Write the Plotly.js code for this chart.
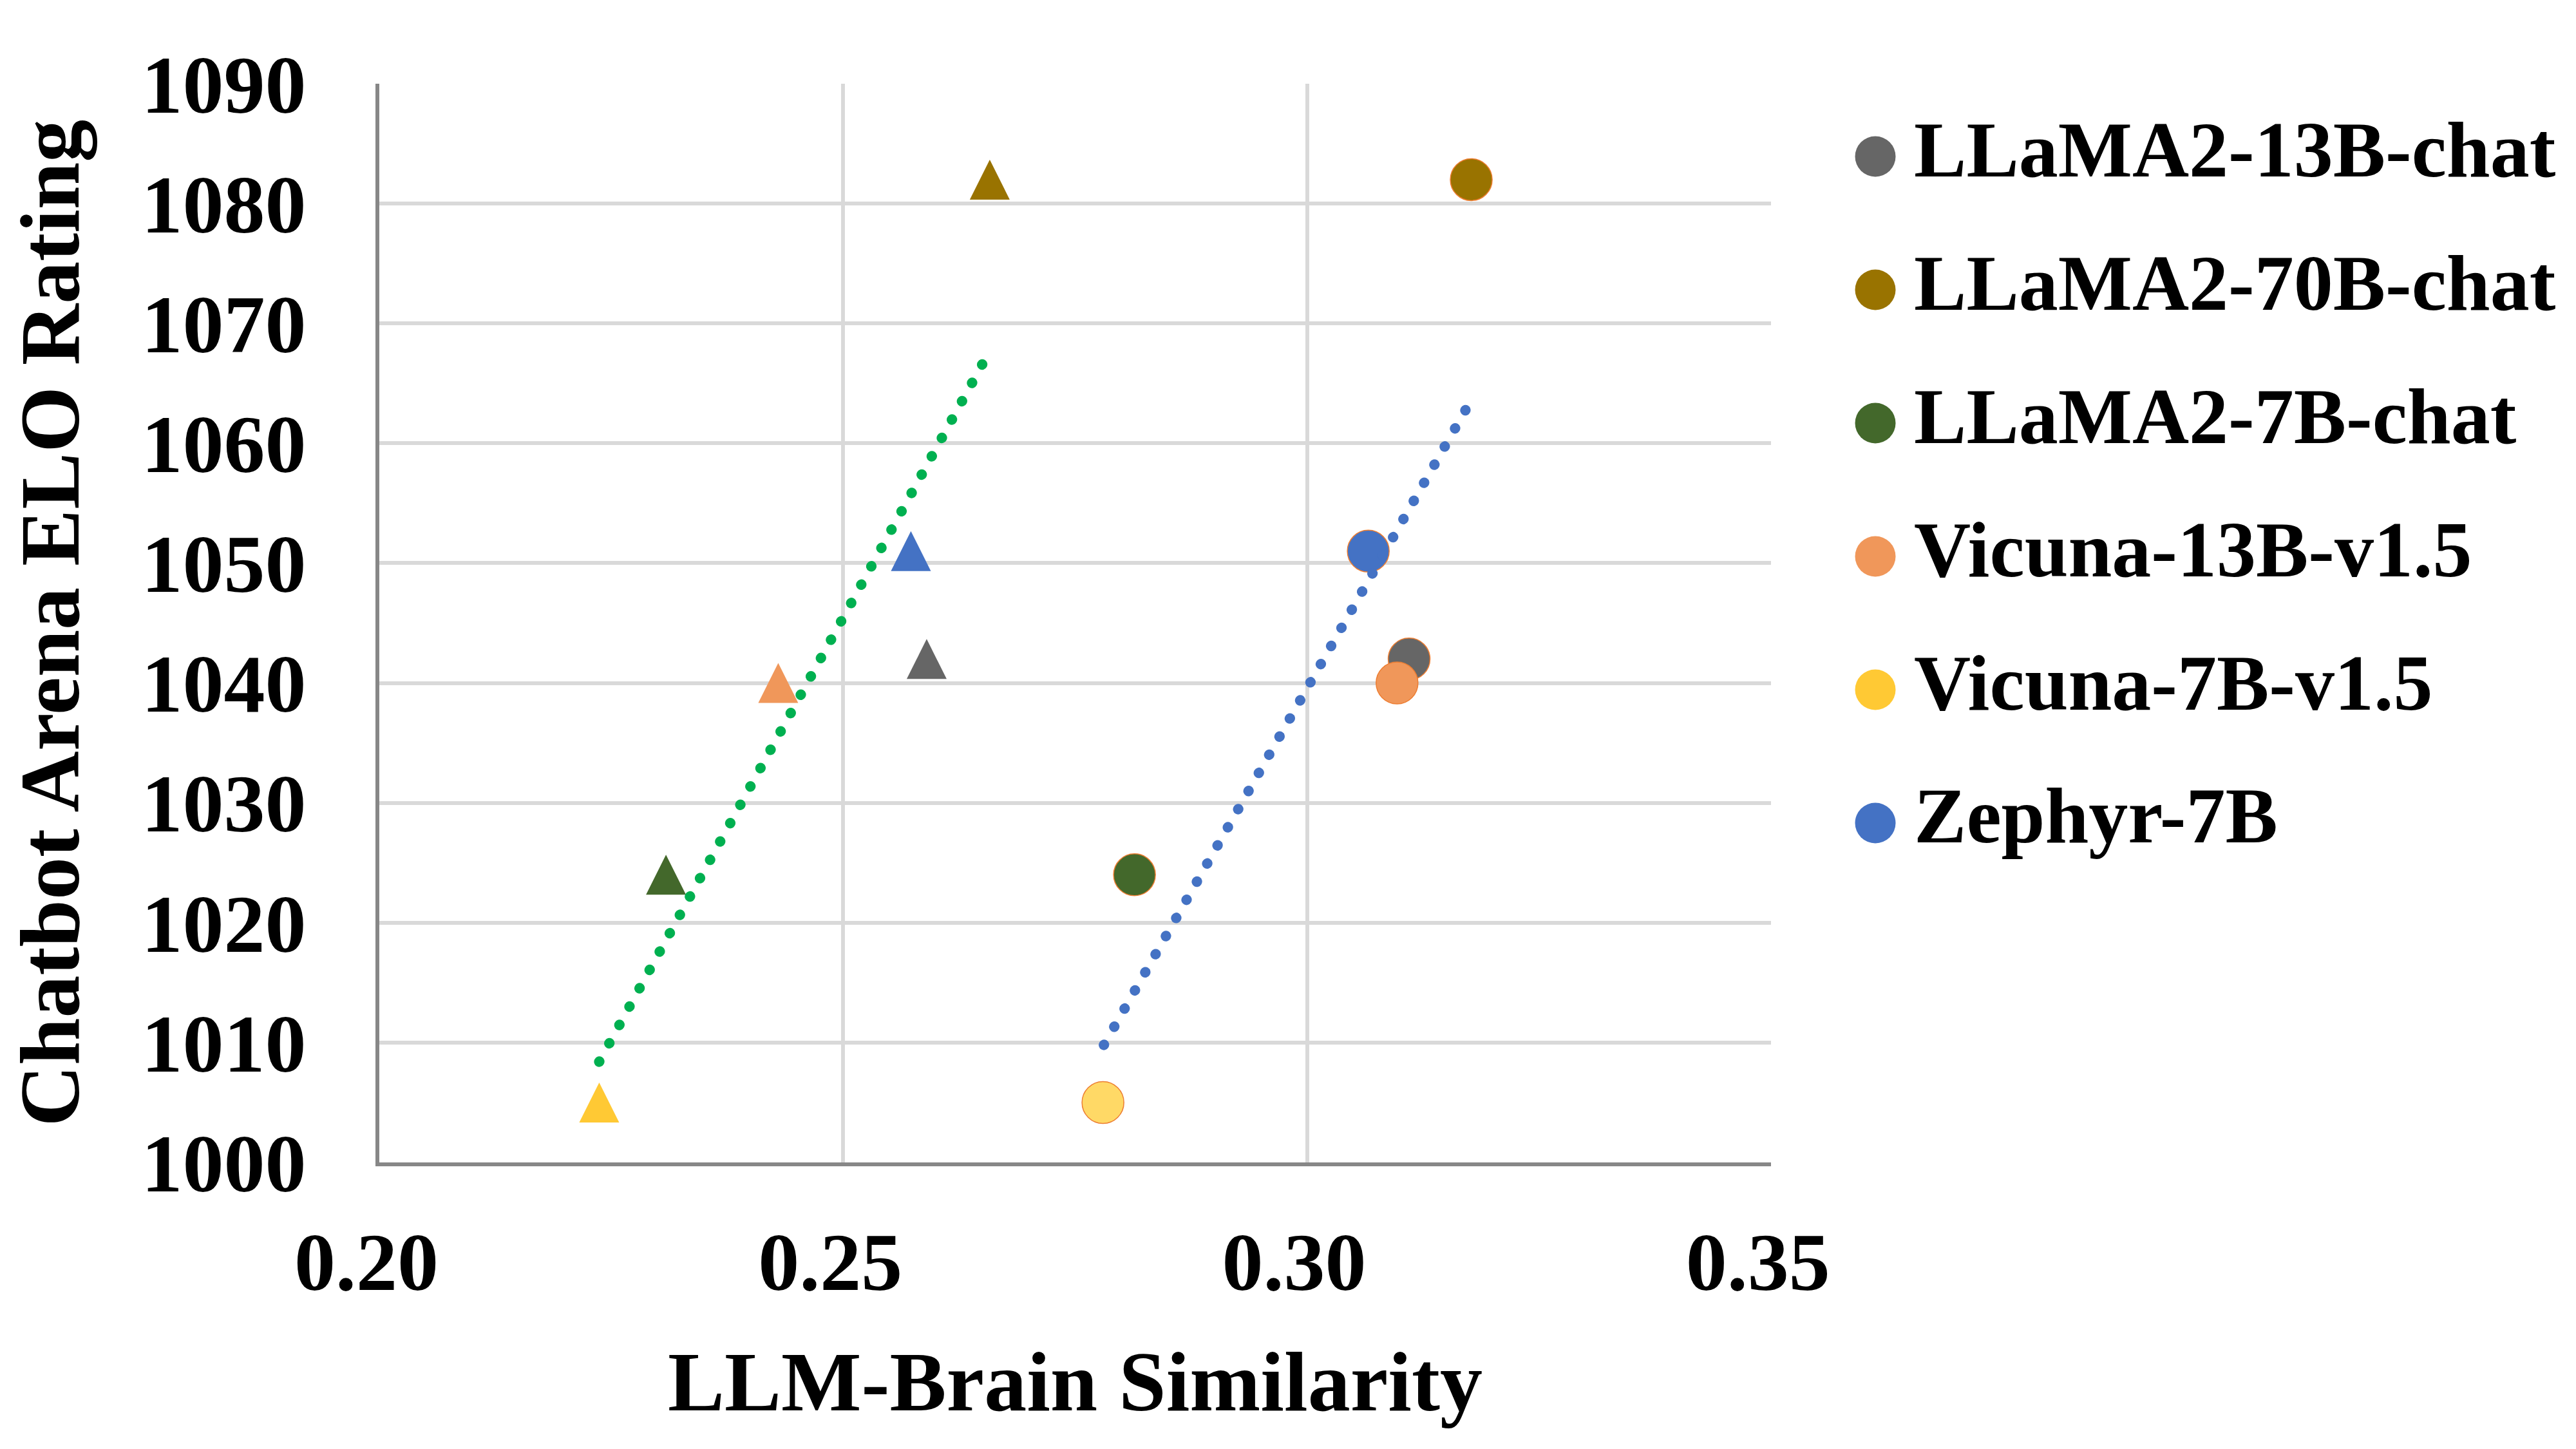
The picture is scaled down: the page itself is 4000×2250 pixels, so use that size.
<!DOCTYPE html>
<html>
<head>
<meta charset="utf-8">
<script src="https://cdn.plot.ly/plotly-3.0.1.min.js"></script>
<style>
  html, body { margin: 0; padding: 0; background: #fff; }
  #chart { width: 4000px; height: 2250px; }
  /* round caps turn the dotted trend lines into round dots */
  .scatterlayer .js-line { stroke-linecap: round; }
</style>
</head>
<body>
<div id="chart"></div>
<script>
// Models, in legend order
const models = ['LLaMA2-13B-chat', 'LLaMA2-70B-chat', 'LLaMA2-7B-chat', 'Vicuna-13B-v1.5', 'Vicuna-7B-v1.5', 'Zephyr-7B'];
const eloRating = [1042, 1082, 1024, 1040, 1005, 1051];

// LLM-brain similarity, two measures per model (circles and triangles)
const simCircle = [0.3110, 0.3177, 0.2814, 0.3097, 0.2780, 0.3066];
const simTriangle = [0.2590, 0.2658, 0.2309, 0.2430, 0.2237, 0.2573];

// Trend lines, end points
const trendTriangleX = [0.2237, 0.2650];
const trendTriangleY = [1008.4, 1066.6];
const trendCircleX = [0.2781, 0.3171];
const trendCircleY = [1009.8, 1062.8];

const circleColors = ['#666666', '#997300', '#43682b', '#f0975a', '#ffd966', '#4472c4'];
const triangleColors = ['#666666', '#997300', '#43682b', '#f0975a', '#ffc934', '#4472c4'];
const legendColors = ['#666666', '#997300', '#43682b', '#f0975a', '#ffc934', '#4472c4'];

const xTicks = [0.20, 0.25, 0.30, 0.35];
const yTicks = [1000, 1010, 1020, 1030, 1040, 1050, 1060, 1070, 1080, 1090];

const FONT = 'Liberation Serif, Times New Roman, serif';
const GRID = '#d9d9d9';
const AXIS = '#878787';

const data = [
  {
    type: 'scatter', mode: 'markers', name: 'circles',
    x: simCircle, y: eloRating,
    marker: { symbol: 'circle', size: 65, color: circleColors, line: { width: 1.5, color: '#ed7d31' } },
    hoverinfo: 'skip'
  },
  {
    // arrow-down turned round 180 degrees and pushed back by half its size
    // gives an upright triangle centred on the point
    type: 'scatter', mode: 'markers', name: 'triangles',
    x: simTriangle, y: eloRating,
    marker: { symbol: 'arrow-down', angle: 180, standoff: 31, size: 62, color: triangleColors, line: { width: 0 } },
    hoverinfo: 'skip'
  },
  {
    type: 'scatter', mode: 'lines', name: 'trend triangles',
    x: trendTriangleX, y: trendTriangleY,
    line: { color: '#00b050', width: 16, dash: '0.5px,32px' },
    hoverinfo: 'skip'
  },
  {
    type: 'scatter', mode: 'lines', name: 'trend circles',
    x: trendCircleX, y: trendCircleY,
    line: { color: '#4472c4', width: 16, dash: '0.5px,31.9px' },
    hoverinfo: 'skip'
  },
  // legend, drawn on its own hidden axes so the markers can be full size
  {
    type: 'scatter', mode: 'markers', xaxis: 'x2', yaxis: 'y2',
    x: models.map(() => 112), y: models.map((m, i) => i),
    marker: { symbol: 'circle', size: 63, color: legendColors },
    hoverinfo: 'skip'
  },
  {
    type: 'scatter', mode: 'text', xaxis: 'x2', yaxis: 'y2',
    x: models.map(() => 172), y: models.map((m, i) => i),
    text: models, textposition: 'middle right',
    textfont: { family: FONT, size: 122, weight: 'bold', color: '#000' },
    hoverinfo: 'skip'
  }
];

const layout = {
  width: 4000,
  height: 2250,
  margin: { l: 589, r: 0, t: 130, b: 445 },
  paper_bgcolor: '#fff',
  plot_bgcolor: '#fff',
  showlegend: false,
  font: { family: FONT, color: '#000' },
  xaxis: {
    domain: [0, 0.6335],
    range: [0.2, 0.35],
    tickvals: xTicks,
    tickformat: '.2f',
    ticks: '',
    ticklabelstandoff: 38,
    ticklabelshift: -20,
    tickfont: { family: FONT, size: 128, weight: 'bold', color: '#000' },
    showgrid: true, gridcolor: GRID, gridwidth: 6,
    showline: true, linecolor: AXIS, linewidth: 6,
    zeroline: false,
    title: { text: 'LLM-Brain Similarity', font: { family: FONT, size: 132, weight: 'bold', color: '#000' }, standoff: 70 }
  },
  yaxis: {
    range: [1000, 1090],
    tickvals: yTicks,
    ticks: '',
    ticklabelstandoff: 82,
    tickfont: { family: FONT, size: 128, weight: 'bold', color: '#000' },
    showgrid: true, gridcolor: GRID, gridwidth: 6,
    showline: true, linecolor: AXIS, linewidth: 6,
    zeroline: false,
    title: { text: 'Chatbot Arena ELO Rating', font: { family: FONT, size: 132, weight: 'bold', color: '#000' }, standoff: 54 }
  },
  xaxis2: {
    domain: [0.6482, 1], range: [0, 1200], anchor: 'y2',
    visible: false, fixedrange: true
  },
  yaxis2: {
    domain: [0, 1], range: [7.546, -0.546], anchor: 'x2',
    visible: false, fixedrange: true
  }
};

Plotly.newPlot('chart', data, layout, { staticPlot: true });
</script>
</body>
</html>
